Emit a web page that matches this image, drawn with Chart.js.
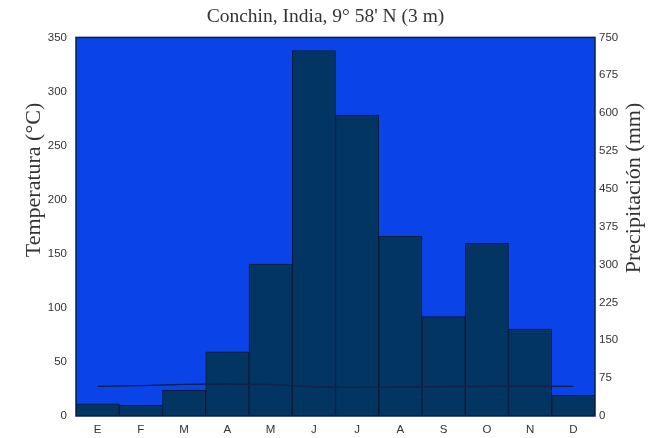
<!DOCTYPE html>
<html>
<head>
<meta charset="utf-8">
<script src="https://cdn.jsdelivr.net/npm/chart.js@4/dist/chart.umd.min.js"></script>
<style>
  html, body { margin: 0; padding: 0; background: #fff; }
  #wrap { width: 651px; height: 438px; }
</style>
</head>
<body>
<div id="wrap"><canvas id="climograma"></canvas></div>
<script>
// climograma de Cochin
const months = ['E', 'F', 'M', 'A', 'M', 'J', 'J', 'A', 'S', 'O', 'N', 'D'];
const precipitation = [24, 21, 51, 127, 301, 724, 596, 356, 197, 342, 172, 41];
const temperature = [27.4, 28.1, 29.2, 29.6, 29.1, 27.1, 26.6, 26.8, 27.2, 27.4, 27.5, 27.4];
const tempTicks = [0, 50, 100, 150, 200, 250, 300, 350];
const precTicks = [0, 75, 150, 225, 300, 375, 450, 525, 600, 675, 750];

const chartTitle = "Conchin, India, 9° 58' N (3 m)";
const tempLabel = 'Temperatura (°C)';
const precLabel = 'Precipitación (mm)';

const tickFont = { family: 'Liberation Sans', size: 11.5 };
const serif = 'Liberation Serif';

// fondo azul del area de trazado y borde
const plotBackground = {
    id: 'plotBackground',
    beforeDraw(chart) {
        const a = chart.chartArea;
        const ctx = chart.ctx;
        ctx.save();
        ctx.fillStyle = '#0a44e8';
        ctx.fillRect(a.left, a.top, a.right - a.left, a.bottom - a.top);
        ctx.restore();
    },
    afterDraw(chart) {
        const a = chart.chartArea;
        const ctx = chart.ctx;
        ctx.save();
        ctx.strokeStyle = '#0a1f4d';
        ctx.lineWidth = 1.5;
        ctx.strokeRect(a.left, a.top, a.right - a.left, a.bottom - a.top);
        ctx.restore();
    }
};

// titulos de los ejes (no centrados en el eje en el original)
const axisTitles = {
    id: 'axisTitles',
    afterDraw(chart) {
        const ctx = chart.ctx;
        ctx.save();
        ctx.fillStyle = '#333333';
        ctx.font = '22px "' + serif + '"';
        ctx.textAlign = 'center';
        ctx.textBaseline = 'middle';

        ctx.translate(34, 180);
        ctx.rotate(-Math.PI / 2);
        ctx.fillText(tempLabel, 0, 0);
        ctx.restore();

        ctx.save();
        ctx.fillStyle = '#333333';
        ctx.font = '22px "' + serif + '"';
        ctx.textAlign = 'center';
        ctx.textBaseline = 'middle';
        ctx.translate(634, 188);
        ctx.rotate(-Math.PI / 2);
        ctx.fillText(precLabel, 0, 0);
        ctx.restore();
    }
};

function fixWidth(w) {
    return function (scale) { scale.width = w; };
}

let ctx = document.getElementById('climograma').getContext('2d');
let climograma = new Chart(ctx, {
    type: 'bar',
    data: {
        labels: months,
        datasets: [{
            type: 'line',
            label: 'Temperatura',
            data: temperature,
            yAxisID: 'yTemp',
            borderColor: '#14224a',
            borderWidth: 1.4,
            pointRadius: 0,
            tension: 0.3,
            fill: false,
            order: 0
        }, {
            type: 'bar',
            label: 'Precipitación',
            data: precipitation,
            yAxisID: 'yPrec',
            backgroundColor: '#023561',
            borderColor: '#0a1a36',
            borderWidth: 1,
            borderSkipped: false,
            barPercentage: 1,
            categoryPercentage: 1,
            order: 1
        }]
    },
    options: {
        responsive: true,
        maintainAspectRatio: false,
        animation: false,
        layout: { padding: 0 },
        plugins: {
            legend: { display: false },
            tooltip: { enabled: false },
            title: {
                display: true,
                text: chartTitle,
                color: '#333333',
                font: { family: serif, size: 19.5, weight: 'normal' },
                padding: { top: 5, bottom: 9 }
            }
        },
        scales: {
            x: {
                grid: { display: false, drawTicks: false },
                border: { display: false },
                ticks: { color: '#333333', font: tickFont, padding: 7 },
                afterFit(scale) { scale.height = 22; }
            },
            yTemp: {
                position: 'left',
                min: 0,
                max: 350,
                afterBuildTicks(scale) {
                    scale.ticks = tempTicks.map(v => ({ value: v }));
                },
                grid: { display: false, drawTicks: false },
                border: { display: false },
                ticks: { color: '#333333', font: tickFont, padding: 9 },
                afterFit: fixWidth(76)
            },
            yPrec: {
                position: 'right',
                min: 0,
                max: 750,
                afterBuildTicks(scale) {
                    scale.ticks = precTicks.map(v => ({ value: v }));
                },
                grid: { display: false, drawTicks: false },
                border: { display: false },
                ticks: { color: '#333333', font: tickFont, padding: 4 },
                afterFit: fixWidth(56)
            }
        }
    },
    plugins: [plotBackground, axisTitles]
});
</script>
</body>
</html>
